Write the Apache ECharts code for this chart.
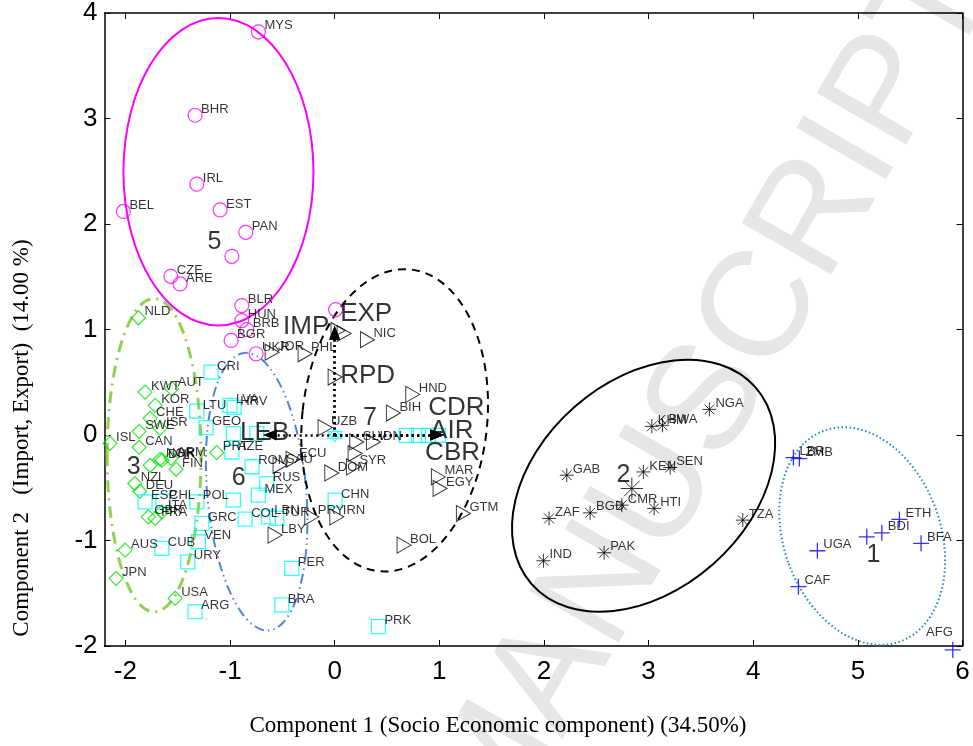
<!DOCTYPE html>
<html><head><meta charset="utf-8">
<script src="https://cdn.jsdelivr.net/npm/echarts@6/dist/echarts.min.js"></script>
<style>html,body{margin:0;padding:0;background:#fff}#chart{width:973px;height:746px}</style>
</head><body><div id="chart"></div>
<script>
// ---- axis ticks ----
const xTicks = [-2, -1, 0, 1, 2, 3, 4, 5, 6];
const xTitle = 'Component 1 (Socio Economic component) (34.50%)';
const yTitle = 'Component 2   (Import, Export)  (14.00 %)';

// ---- cluster 5 (magenta circles) ----
const c5Names = ['MYS','BHR','IRL','BEL','EST','PAN','','CZE','ARE','BLR','HUN','BRB','BGR','UKR',''];
const c5X = [-0.729,-1.334,-1.318,-2.019,-1.095,-0.850,-0.983,-1.566,-1.478,-0.888,-0.888,-0.840,-0.990,-0.751,0.009];
const c5Y = [3.822,3.031,2.378,2.119,2.133,1.921,1.694,1.504,1.432,1.227,1.085,0.999,0.896,0.770,1.189];

// ---- cluster 3 (green diamonds) ----
const c3Names = ['NLD','KWT','AUT','KOR','CHE','SWE','ISR','ISL','CAN','ARM','NOR','DNK','FIN','','PRT','NZL','DEU','GBR','FRA','ITA','AUS','JPN','USA'];
const c3X = [-1.876,-1.812,-1.557,-1.716,-1.764,-1.869,-1.669,-2.147,-1.869,-1.564,-1.669,-1.650,-1.516,-1.764,-1.127,-1.911,-1.863,-1.781,-1.716,-1.652,-2.003,-2.089,-1.525];
const c3Y = [1.111,0.407,0.439,0.281,0.158,0.035,0.063,-0.079,-0.116,-0.220,-0.230,-0.239,-0.325,-0.287,-0.167,-0.460,-0.533,-0.776,-0.791,-0.729,-1.091,-1.359,-1.548];

// ---- cluster 6 (cyan squares) ----
const c6Names = ['CRI','LTU','LVA','HRV','GEO','','','AZE','ROM','RUS','MEX','','POL','ESP','CHL','GRC','COL','LBN','TUR','CUB','VEN','URY','ARG','PER','BRA','CHN','PRK','','','',''];
const c6X = [-1.181,-1.318,-1.000,-0.961,-1.229,-0.968,-0.745,-0.983,-0.789,-0.649,-0.729,-0.968,-1.318,-1.812,-1.640,-1.270,-0.856,-0.634,-0.553,-1.652,-1.303,-1.404,-1.334,-0.410,-0.506,0.004,0.418,0.685,0.800,0.896,0.991];
const c6Y = [0.596,0.227,0.281,0.262,0.070,0.013,0.013,-0.161,-0.301,-0.460,-0.570,-0.618,-0.634,-0.634,-0.627,-0.838,-0.798,-0.776,-0.791,-1.075,-1.012,-1.202,-1.675,-1.264,-1.611,-0.618,-1.816,-0.003,-0.003,-0.003,-0.003];

// ---- cluster 7 (black triangles) ----
const c7Names = ['NIC','PHL','JOR','','','','HND','BIH','UZB','SLV','IDN','','SYR','DOM','ECU','SAU','MAR','EGY','GTM','BOL','PRY','IRN','LBY'];
const c7X = [0.313,-0.283,-0.598,0.004,0.032,0.090,0.746,0.561,-0.092,0.211,0.370,0.195,0.179,-0.028,-0.398,-0.522,0.991,1.007,1.230,0.663,-0.219,0.020,-0.570];
const c7Y = [0.903,0.770,0.785,0.549,0.991,0.962,0.385,0.208,0.070,-0.066,-0.066,-0.176,-0.302,-0.360,-0.230,-0.287,-0.397,-0.507,-0.744,-1.044,-0.776,-0.776,-0.949];

// ---- cluster 2 (black asterisks) ----
const c2Names = ['NGA','KHM','BWA','GAB','KEN','SEN','CMR','BGD','HTI','ZAF','TZA','PAK','IND'];
const c2X = [3.581,3.031,3.132,2.218,2.950,3.206,2.744,2.441,3.053,2.049,3.900,2.575,1.995];
const c2Y = [0.243,0.082,0.092,-0.381,-0.350,-0.308,-0.665,-0.738,-0.696,-0.791,-0.807,-1.116,-1.192];
const c2CentreX = [2.840];
const c2CentreY = [-0.507];

// ---- cluster 1 (blue plus) ----
const c1Names = ['LBR','ZMB','ETH','BDI','','BFA','UGA','CAF','AFG'];
const c1X = [4.384,4.441,5.397,5.229,5.085,5.604,4.613,4.432,5.907];
const c1Y = [-0.214,-0.223,-0.800,-0.927,-0.965,-1.027,-1.097,-1.438,-2.037];

// ---- variable loadings (arrows from origin) ----
const loadNames = ['EXP','IMP','LEB','CDR','AIR','CBR'];
const loadX = [0, 0, -0.62, 0.98, 0.98, 0.98];
const loadY = [0.97, 0.97, 0, 0, 0, 0];

// ---- text annotations ----
const clusterNames = ['5','3','6','2','1','7'];
const clusterX = [-1.148,-1.922,-0.918,2.759,5.149,0.338];
const clusterY = [1.826,-0.306,-0.410,-0.381,-1.138,0.158];
const varNames = ['EXP','IMP','RPD','LEB','CDR','AIR','CBR'];
const varX = [0.052,-0.493,0.052,-0.904,0.893,0.912,0.864];
const varY = [1.151,1.028,0.565,0.016,0.253,0.044,-0.173];

// ---- cluster ellipses: centre, semi-axes (data units), rotation (deg) ----
const ellCx = [-1.111,-1.726,-0.746,0.573,2.952,5.041];
const ellCy = [2.495,-0.192,-0.537,0.139,-0.481,-0.958];
const ellRx = [0.908,0.449,0.473,0.884,1.424,0.750];
const ellRy = [1.457,1.485,1.320,1.438,0.993,1.062];
const ellRot = [0,0,5,-6,41.3,19.6];

const ellStyles = [
  {color:'#ff00ff', width:2, dash:null},
  {color:'#92d050', width:3, dash:[12,6,2,6]},
  {color:'#4f86d8', width:2, dash:[10,4,1.5,4,1.5,4]},
  {color:'#000000', width:2, dash:[8,6]},
  {color:'#000000', width:2, dash:null},
  {color:'#1a8ad4', width:2, dash:[1.5,2.5]}
];

function pts(names, xs, ys) {
  return names.map((n, i) => ({name: n, value: [xs[i], ys[i]]}));
}
const FONT = 'Liberation Sans, Arial, sans-serif';
const SERIF = 'Liberation Serif, Times New Roman, serif';
const ptLabel = {
  show: true, position: 'inside', align: 'left', verticalAlign: 'middle',
  offset: [6, -6], formatter: p => p.name, fontSize: 13, color: '#000', fontFamily: FONT
};

function ellipseSeries(i) {
  const st = ellStyles[i];
  return {
    type: 'custom', coordinateSystem: 'cartesian2d', silent: true, z: 2, clip: false,
    data: [[ellCx[i], ellCy[i], ellRx[i], ellRy[i], ellRot[i]]],
    encode: {x: 0, y: 1},
    renderItem: (params, api) => {
      const c = api.coord([api.value(0), api.value(1)]);
      const s = api.size([api.value(2), api.value(3)]);
      return {
        type: 'ellipse', x: c[0], y: c[1], rotation: api.value(4) * Math.PI / 180,
        shape: {cx: 0, cy: 0, rx: s[0], ry: s[1]},
        style: {fill: 'none', stroke: st.color, lineWidth: st.width, lineDash: st.dash}
      };
    }
  };
}

const c1Data = pts(c1Names, c1X, c1Y).map(d => d.name === 'AFG'
  ? Object.assign(d, {label: {align: 'right', offset: [0, -17]}}) : d);

const axisLine = {show: true, onZero: false, lineStyle: {color: '#000', width: 1.5}};
const tickStyle = {color: '#000', width: 1};

const option = {
  animation: false,
  backgroundColor: '#fff',
  graphic: [{
    type: 'text', x: 712, y: 398, rotation: Math.PI / 3, z: -10, silent: true,
    style: {text: 'MANUSCRIPT', fontSize: 150, fontFamily: FONT, fill: '#e6e6e6',
            align: 'center', verticalAlign: 'middle', textAlign: 'center', textVerticalAlign: 'middle'}
  }],
  grid: {left: 104.5, right: 10.5, top: 12, bottom: 100},
  xAxis: [
    {type: 'value', min: -2.2, max: 6, position: 'bottom', axisLine: axisLine, splitLine: {show: false},
     axisTick: {show: true, inside: true, length: 6, customValues: xTicks, lineStyle: tickStyle},
     axisLabel: {show: true, customValues: xTicks, fontSize: 26, color: '#000', fontFamily: FONT, margin: 13},
     name: xTitle, nameLocation: 'middle', nameGap: 68,
     nameTextStyle: {fontFamily: SERIF, fontSize: 23, color: '#000', padding: [0, 71, 0, 0]}},
    {type: 'value', min: -2.2, max: 6, position: 'top', axisLine: axisLine, splitLine: {show: false},
     axisTick: {show: true, inside: true, length: 6, customValues: xTicks, lineStyle: tickStyle},
     axisLabel: {show: false}}
  ],
  yAxis: [
    {type: 'value', min: -2, max: 4, interval: 1, position: 'left', axisLine: axisLine, splitLine: {show: false},
     axisTick: {show: true, inside: true, length: 6, lineStyle: tickStyle},
     axisLabel: {fontSize: 26, color: '#000', fontFamily: FONT, margin: 7},
     name: yTitle, nameLocation: 'middle', nameGap: 71, nameRotate: 90,
     nameTextStyle: {fontFamily: SERIF, fontSize: 23, color: '#000', padding: [0, 217, 0, 0]}},
    {type: 'value', min: -2, max: 4, interval: 1, position: 'right', axisLine: axisLine, splitLine: {show: false},
     axisTick: {show: true, inside: true, length: 6, lineStyle: tickStyle},
     axisLabel: {show: false}}
  ],
  series: [
    ellipseSeries(0), ellipseSeries(1), ellipseSeries(2), ellipseSeries(3), ellipseSeries(4), ellipseSeries(5),
    {type: 'scatter', silent: true, z: 3, data: pts(c5Names, c5X, c5Y), symbol: 'circle', symbolSize: 14,
     itemStyle: {color: 'transparent', borderColor: '#ff00ff', borderWidth: 1.2}, label: ptLabel},
    {type: 'scatter', silent: true, z: 3, data: pts(c3Names, c3X, c3Y), symbol: 'diamond', symbolSize: 14,
     itemStyle: {color: 'transparent', borderColor: '#00e600', borderWidth: 1.2}, label: ptLabel},
    {type: 'scatter', silent: true, z: 3, data: pts(c6Names, c6X, c6Y), symbol: 'rect', symbolSize: 14,
     itemStyle: {color: 'transparent', borderColor: '#00ffff', borderWidth: 1.3}, label: ptLabel},
    {type: 'scatter', silent: true, z: 3, data: pts(c7Names, c7X, c7Y), symbol: 'triangle', symbolSize: [16, 14], symbolRotate: -90,
     itemStyle: {color: 'transparent', borderColor: '#000', borderWidth: 1}, label: ptLabel},
    {type: 'scatter', silent: true, z: 3, data: pts(c2Names, c2X, c2Y),
     symbol: 'path://M0,-1L0,1M-1,0L1,0M-0.7,-0.7L0.7,0.7M-0.7,0.7L0.7,-0.7', symbolSize: 14,
     itemStyle: {color: 'transparent', borderColor: '#000', borderWidth: 1}, label: ptLabel},
    {type: 'scatter', silent: true, z: 3, data: pts([''], c2CentreX, c2CentreY),
     symbol: 'path://M0,-1L0,1M-1,0L1,0M-0.7,-0.7L0.7,0.7M-0.7,0.7L0.7,-0.7', symbolSize: 22,
     itemStyle: {color: 'transparent', borderColor: '#000', borderWidth: 1}},
    {type: 'scatter', silent: true, z: 3, clip: false, data: c1Data,
     symbol: 'path://M0,-1L0,1M-1,0L1,0', symbolSize: 16,
     itemStyle: {color: 'transparent', borderColor: '#0000ff', borderWidth: 1.3}, label: ptLabel},
    {type: 'scatter', silent: true, z: 4, data: [{name: '', value: [0, 0]}],
     symbol: 'path://M0,-1L0.866,0.5L-0.866,0.5ZM0,1L0.866,-0.5L-0.866,-0.5Z', symbolSize: 14,
     itemStyle: {color: 'transparent', borderColor: '#00ffff', borderWidth: 1.2},
     markLine: {silent: true, animation: false, symbol: ['none', 'triangle'], symbolSize: [11, 14],
       lineStyle: {color: '#000', width: 2.5, type: [2, 3.5]}, label: {show: false},
       data: loadNames.map((n, i) => [{coord: [0, 0]}, {coord: [loadX[i], loadY[i]]}])}},
    {type: 'scatter', silent: true, z: 5, data: pts(clusterNames, clusterX, clusterY), symbolSize: 1,
     itemStyle: {color: 'transparent'},
     label: {show: true, position: 'inside', formatter: p => p.name, fontSize: 25, color: '#000', fontFamily: FONT}},
    {type: 'scatter', silent: true, z: 5, data: pts(varNames, varX, varY), symbolSize: 1,
     itemStyle: {color: 'transparent'},
     label: {show: true, position: 'inside', align: 'left', verticalAlign: 'middle', formatter: p => p.name,
             fontSize: 26, color: '#000', fontFamily: FONT}}
  ]
};
const chart = echarts.init(document.getElementById('chart'));
chart.setOption(option);
</script>
</body></html>
